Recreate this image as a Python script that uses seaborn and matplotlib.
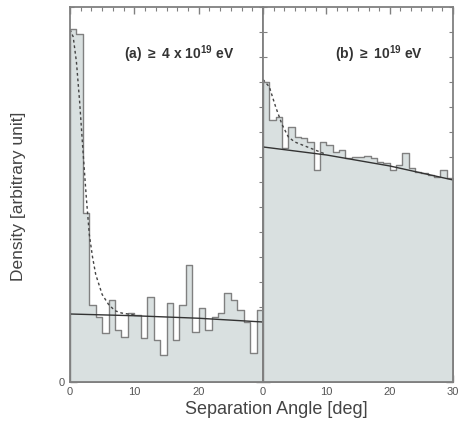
import numpy as np
import pandas as pd
import matplotlib
matplotlib.use("Agg")
import matplotlib.pyplot as plt
import seaborn as sns
from matplotlib.ticker import MultipleLocator

# bin edges (deg) shared by both panels
bin_edges = list(range(0, 31))
bin_centers = [e + 0.5 for e in bin_edges[:-1]]

# (a) >= 4 x 10^19 eV : density per 1-deg bin
dens_a = [14.1, 13.9, 6.76, 3.08, 2.6, 1.96, 3.28, 2.08, 1.8, 2.76,
          2.68, 1.76, 3.4, 1.68, 1.08, 3.16, 1.68, 3.08, 4.68, 2.0,
          2.96, 2.08, 2.6, 2.76, 3.56, 3.28, 2.88, 2.4, 1.16, 2.88]
# isotropic expectation (solid) and fit (dashed)
iso_a_x = [0, 10, 20, 30]
iso_a_y = [2.72, 2.65, 2.55, 2.4]
fit_a_x = [0, 0.5, 1, 1.5, 2, 2.5, 3, 3.5, 4, 5, 6, 7, 8, 10]
fit_a_y = [14.1, 13.8, 12.8, 11.2, 9.3, 7.5, 5.9, 5.0, 4.3, 3.5, 3.1, 2.85, 2.76, 2.68]

# (b) >= 10^19 eV
dens_b = [12.0, 10.48, 10.6, 9.36, 10.2, 9.8, 9.76, 9.6, 8.48, 9.6,
          9.48, 9.2, 9.28, 8.96, 9.0, 9.0, 9.04, 8.96, 8.8, 8.76,
          8.48, 8.68, 9.16, 8.56, 8.4, 8.36, 8.28, 8.2, 8.48, 8.16]
iso_b_x = [0, 10, 20, 30]
iso_b_y = [9.4, 9.08, 8.64, 8.08]
fit_b_x = [0, 1, 2, 3, 4, 5, 6, 8, 10]
fit_b_y = [12.1, 11.8, 11.0, 10.3, 9.8, 9.6, 9.5, 9.3, 9.1]

labels = [r"(a) $\geq$ 4 x 10$^{19}$ eV", r"(b) $\geq$ 10$^{19}$ eV"]

sns.set_style("ticks")
plt.rcParams["font.family"] = ["Liberation Sans", "DejaVu Sans"]
plt.rcParams["mathtext.fontset"] = "custom"
plt.rcParams["mathtext.rm"] = "Liberation Sans:bold"
plt.rcParams["mathtext.default"] = "rm"

fig = plt.figure(figsize=(4.59, 4.32), dpi=100)
ax_a = fig.add_axes([0.1525, 0.1157, 0.4205, 0.8683])
ax_b = fig.add_axes([0.573, 0.1157, 0.414, 0.8683])

fill_col = "#d9e0e0"
edge_col = "#808080"
grey = "#555555"

panels = [
    (ax_a, dens_a, iso_a_x, iso_a_y, fit_a_x, fit_a_y, labels[0], 0.28),
    (ax_b, dens_b, iso_b_x, iso_b_y, fit_b_x, fit_b_y, labels[1], 0.38),
]

for ax, dens, ix, iy, fx, fy, lab, tx in panels:
    df = pd.DataFrame({"angle": bin_centers, "density": dens})
    sns.histplot(data=df, x="angle", weights="density", bins=bin_edges,
                 element="step", fill=True, color=fill_col, alpha=1,
                 edgecolor=edge_col, linewidth=1.0, ax=ax)
    sns.lineplot(x=fx, y=fy, ax=ax, color="#444444", linestyle=(0, (2, 2)),
                 linewidth=1.0)
    sns.lineplot(x=ix, y=iy, ax=ax, color="#333333", linewidth=1.0)
    ax.set_xlim(0, 30)
    ax.set_ylim(0, 15)
    ax.set_xlabel("")
    ax.set_ylabel("")
    ax.xaxis.set_major_locator(MultipleLocator(10))
    ax.xaxis.set_minor_locator(MultipleLocator(10 / 6))
    ax.yaxis.set_major_locator(MultipleLocator(5))
    ax.yaxis.set_minor_locator(MultipleLocator(1))
    ax.tick_params(which="both", direction="in", top=True, right=True,
                   color=edge_col, labelcolor=grey, labelsize=8)
    ax.tick_params(which="major", length=5, width=1)
    ax.tick_params(which="minor", length=3, width=0.8)
    for s in ax.spines.values():
        s.set_color(edge_col)
        s.set_linewidth(1.3)
    ax.text(tx, 0.875, lab, transform=ax.transAxes, ha="left", va="center",
            fontsize=10, fontweight="bold", color="#333333")

ax_a.set_xticks([0, 10, 20])
ax_a.set_xticklabels(["0", "10", "20"])
ax_a.set_yticks([0])
ax_a.set_yticklabels(["0"])
ax_b.set_xticks([0, 10, 20, 30])
ax_b.set_yticks([0])
ax_b.set_yticklabels([])

fig.text(0.04, 0.546, "Density [arbitrary unit]", rotation=90, ha="center",
         va="center", fontsize=12.5, color="#444444")
fig.text(0.603, 0.051, "Separation Angle [deg]", ha="center", va="center",
         fontsize=13, color="#444444")

fig.savefig("out.png", dpi=100)
